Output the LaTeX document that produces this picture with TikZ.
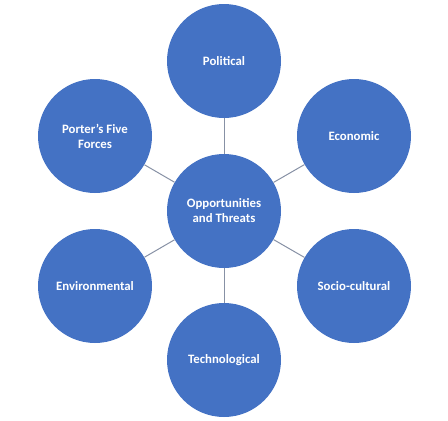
\documentclass[tikz,border=0pt]{standalone}
\usepackage{fontspec}
\setmainfont{Carlito}
\definecolor{ballblue}{RGB}{68,114,196}
\definecolor{linkgray}{RGB}{135,145,165}
\begin{document}
\begin{tikzpicture}[x=1pt,y=-1pt,
ball/.style={circle,fill=ballblue,minimum size=114pt,inner sep=0pt,text=white,align=center,font=\bfseries\fontsize{12.8}{15}\selectfont},
link/.style={draw=linkgray,line width=1pt}]
\useasboundingbox(0,0)rectangle(448,421);
\node[ball](hub)at(224,211){Opportunities\\and Threats};
\node[ball](pol)at(224,61){Political};
\node[ball](eco)at(354,136){Economic};
\node[ball](soc)at(354,286){Socio-cultural};
\node[ball](tec)at(224,360){Technological};
\node[ball](env)at(95,286){Environmental};
\node[ball](por)at(95,136){Porter's Five\\Forces};
\foreach \n in {pol,eco,soc,tec,env,por}{\draw[link](hub)--(\n);}
\end{tikzpicture}
\end{document}
